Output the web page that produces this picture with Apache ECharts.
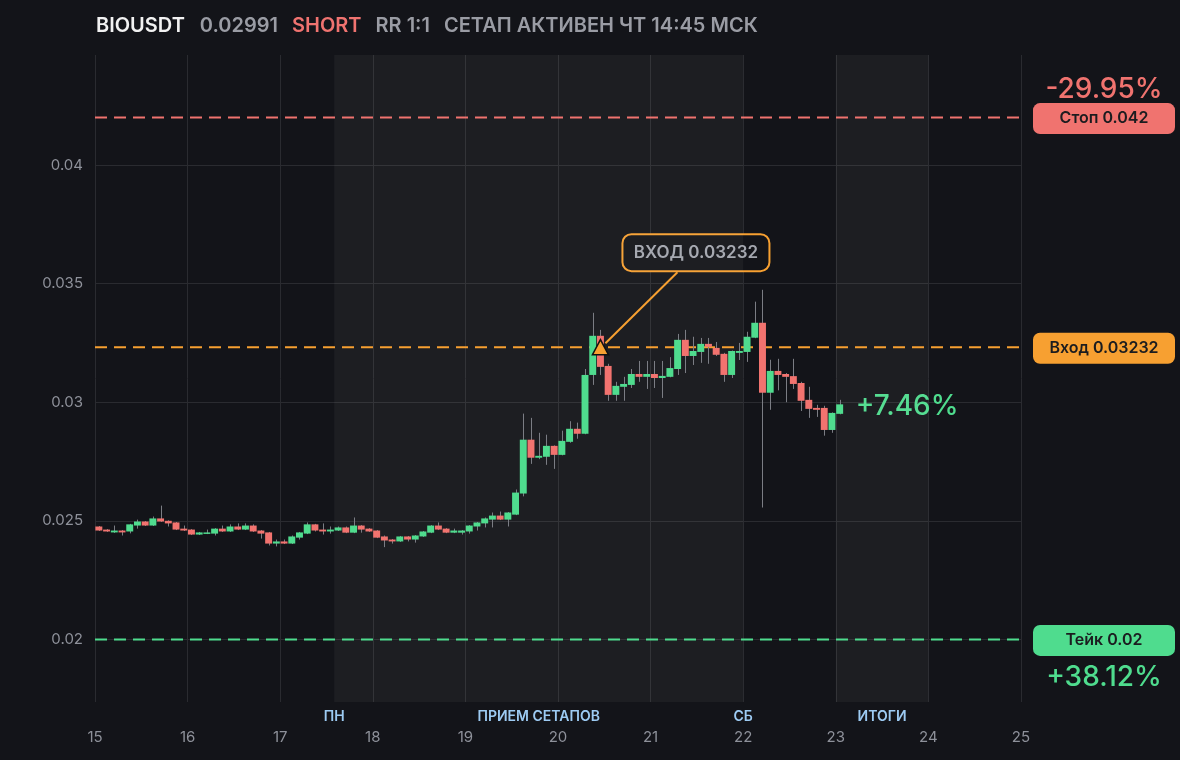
<!DOCTYPE html>
<html><head><meta charset="utf-8">
<script src="https://cdn.jsdelivr.net/npm/echarts@6/dist/echarts.min.js"></script>
<style>html,body{margin:0;padding:0;background:#131419;}#c{width:1180px;height:760px;}</style>
</head><body><div id="c"></div>
<script>
// ---- data ----
const ticker = 'BIOUSDT';
const lastPrice = 0.02991;
const side = 'SHORT';
const rrText = 'RR 1:1';
const statusText = 'СЕТАП АКТИВЕН ЧТ 14:45 МСК';
const dayTicks = [15, 16, 17, 18, 19, 20, 21, 22, 23, 24, 25];
const firstCandleDay = 15;
const candleStepDays = 2 / 24;
const opens = [0.02476,0.02463,0.02451,0.02459,0.02455,0.0248,0.02497,0.0248,0.0251,0.025,
  0.02493,0.02467,0.02463,0.02442,0.02446,0.02446,0.02467,0.02455,0.02476,0.02463,
  0.0248,0.02459,0.02451,0.02404,0.02413,0.02404,0.02429,0.02446,0.02485,0.02463,
  0.02455,0.02459,0.02472,0.0245,0.0248,0.02467,0.02459,0.02434,0.02421,0.02413,
  0.02434,0.02421,0.02434,0.0245,0.0248,0.02467,0.0245,0.0245,0.02455,0.02476,
  0.02489,0.02505,0.02522,0.02505,0.02526,0.02615,0.02842,0.02766,0.0277,0.02816,
  0.02778,0.02833,0.02888,0.02867,0.03115,0.0328,0.03153,0.03031,0.03065,0.03073,
  0.03119,0.03107,0.03119,0.03102,0.03107,0.0314,0.03263,0.03195,0.03212,0.03246,
  0.03229,0.03204,0.03115,0.03208,0.03212,0.03272,0.03335,0.0304,0.03132,0.03119,
  0.0311,0.03081,0.0301,0.02976,0.02976,0.02883,0.02951];
const closes = [0.02459,0.02455,0.02459,0.02451,0.02485,0.02497,0.0248,0.0251,0.02497,0.02489,
  0.02463,0.02459,0.02442,0.02451,0.02451,0.02467,0.02455,0.02476,0.02463,0.0248,
  0.02455,0.02446,0.02404,0.02413,0.02404,0.02434,0.02451,0.02485,0.02459,0.02455,
  0.02463,0.02472,0.0245,0.0248,0.02463,0.02455,0.02429,0.02417,0.02413,0.02434,
  0.02421,0.02438,0.02455,0.0248,0.02463,0.0245,0.02459,0.02459,0.0248,0.02493,
  0.0251,0.02522,0.02505,0.02535,0.02619,0.02842,0.02766,0.02774,0.02816,0.02778,
  0.02837,0.02888,0.02867,0.03115,0.0328,0.03149,0.03031,0.03069,0.03077,0.03119,
  0.03107,0.03119,0.03102,0.03111,0.03144,0.03263,0.03195,0.03216,0.03246,0.03233,
  0.032,0.03115,0.03216,0.03216,0.03276,0.03335,0.0304,0.03132,0.03115,0.03107,
  0.03077,0.03006,0.02972,0.02968,0.02883,0.02955,0.02991];
const highs = [0.02478,0.02465,0.0248,0.02461,0.02487,0.02505,0.02499,0.02518,0.02564,0.02502,
  0.02495,0.0248,0.02465,0.02453,0.02463,0.02469,0.0248,0.02485,0.02489,0.02489,
  0.02485,0.02461,0.02453,0.02421,0.02421,0.02438,0.02453,0.02493,0.02487,0.02489,
  0.02476,0.02476,0.02476,0.02514,0.02482,0.02469,0.02461,0.02438,0.02423,0.02436,
  0.02436,0.0244,0.02457,0.02482,0.02493,0.02469,0.02467,0.02461,0.02482,0.02495,
  0.02514,0.02535,0.02539,0.02537,0.02632,0.02952,0.02934,0.02871,0.02863,0.02818,
  0.0288,0.0292,0.02914,0.0314,0.03377,0.03305,0.03162,0.03086,0.03107,0.0314,
  0.03174,0.03174,0.03174,0.03174,0.0319,0.03288,0.03305,0.03276,0.03271,0.03271,
  0.03254,0.03208,0.03218,0.0325,0.03297,0.03424,0.03474,0.03179,0.03183,0.03123,
  0.03183,0.03086,0.03065,0.02989,0.02985,0.02957,0.0301];
const lows = [0.02457,0.02453,0.02449,0.02438,0.02447,0.02467,0.02478,0.02478,0.02495,0.02476,
  0.02461,0.02457,0.0244,0.0244,0.02444,0.02438,0.02453,0.02453,0.02461,0.02461,
  0.02453,0.02425,0.02396,0.02392,0.02402,0.02402,0.02421,0.02444,0.02455,0.02442,
  0.02446,0.02457,0.02448,0.02448,0.0245,0.02453,0.02427,0.02389,0.02404,0.02411,
  0.02413,0.02408,0.02432,0.02448,0.02461,0.02448,0.02448,0.02442,0.02446,0.02459,
  0.02472,0.02472,0.02503,0.02476,0.02524,0.02603,0.0274,0.0276,0.02736,0.02719,
  0.02776,0.02829,0.02846,0.02865,0.03073,0.03115,0.03006,0.03006,0.03006,0.0306,
  0.03086,0.03056,0.0306,0.03018,0.03105,0.03115,0.03123,0.03157,0.03166,0.03162,
  0.03195,0.03086,0.03102,0.03178,0.0317,0.0327,0.02556,0.02968,0.0305,0.03,
  0.03056,0.02963,0.02934,0.02938,0.02859,0.02871,0.02949];
const stopPrice = 0.042, entryPrice = 0.03232, takePrice = 0.02;
const stopPct = '-29.95%', takePct = '+38.12%', currentPct = '+7.46%';
const entryCandleIndex = 65;
const shadedZones = [[17.5833, 22], [23, 24]];
const zoneLabels = [
  { day: 17.5833, text: 'ПН' },
  { day: 19.7917, text: 'ПРИЕМ СЕТАПОВ' },
  { day: 22, text: 'СБ' },
  { day: 23.5, text: 'ИТОГИ' }
];

// ---- colours ----
const UP = '#4fdc8e', DOWN = '#f2736f', ORANGE = '#f7a031', GRAYTXT = '#8e919a', STOPC = '#f0736f';
const FONT = 'Inter, "Noto Sans", sans-serif';

const candleData = opens.map((o, i) => [firstCandleDay + candleStepDays * (i + 0.5), o, closes[i], lows[i], highs[i]]);
const entryDay = candleData[entryCandleIndex][0];
const xMin = dayTicks[0], xMax = dayTicks[dayTicks.length - 1];

function levelLine(value, color) {
  return {
    type: 'line', z: 2, silent: true, symbol: 'none',
    data: [[xMin, value], [xMax, value]],
    lineStyle: { color: color, type: [12, 7], width: 2 }
  };
}

const chart = echarts.init(document.getElementById('c'), null, { renderer: 'canvas' });
chart.setOption({
  backgroundColor: '#131419',
  animation: false,
  textStyle: { fontFamily: FONT },
  title: {
    left: 96, top: 16, padding: 0,
    text: `{a|${ticker}}{b|${lastPrice}}{r|${side}}{b|${rrText}}{c|${statusText}}`,
    textStyle: {
      rich: {
        a: { color: '#f2f2f2', fontSize: 20, fontWeight: 600, fontFamily: FONT, padding: [0, 15, 0, 0] },
        b: { color: '#9a9ca4', fontSize: 20, fontWeight: 600, fontFamily: FONT, padding: [0, 14, 0, 0] },
        r: { color: '#f07370', fontSize: 20, fontWeight: 600, fontFamily: FONT, padding: [0, 14, 0, 0] },
        c: { color: '#9a9ca4', fontSize: 20, fontWeight: 600, fontFamily: FONT }
      }
    }
  },
  grid: { left: 95, right: 159, top: 55, bottom: 58, containLabel: false },
  xAxis: {
    type: 'value', min: xMin, max: xMax, interval: 1,
    axisLine: { show: false }, axisTick: { show: false },
    axisLabel: { color: GRAYTXT, fontSize: 15, margin: 28, fontFamily: FONT },
    splitLine: { show: true, lineStyle: { color: '#2a2b30', width: 1 } }
  },
  yAxis: {
    type: 'value', min: 0.01736, max: 0.04464, splitNumber: 5, scale: true,
    axisLine: { show: false }, axisTick: { show: false },
    axisLabel: { color: GRAYTXT, fontSize: 15, margin: 12, fontFamily: FONT, showMinLabel: false, showMaxLabel: false },
    splitLine: { show: true, showMinLine: false, showMaxLine: false, lineStyle: { color: '#2a2b30', width: 1 } }
  },
  series: [
    {
      type: 'custom', z: 3, data: candleData,
      encode: { x: 0, y: [1, 2, 3, 4] },
      markArea: {
        silent: true,
        itemStyle: { color: 'rgba(255,255,255,0.045)' },
        data: shadedZones.map(z => [{ xAxis: z[0] }, { xAxis: z[1] }])
      },
      renderItem(params, api) {
        const x = api.value(0), o = api.value(1), c = api.value(2), l = api.value(3), h = api.value(4);
        const pO = api.coord([x, o]), pC = api.coord([x, c]), pL = api.coord([x, l]), pH = api.coord([x, h]);
        const w = api.size([candleStepDays, 0])[0] * 0.9;
        const top = Math.min(pO[1], pC[1]);
        const bh = Math.max(Math.abs(pO[1] - pC[1]), 1.5);
        const cx = Math.round(pO[0]) + 0.5;
        return {
          type: 'group', children: [
            { type: 'line', shape: { x1: cx, y1: pH[1], x2: cx, y2: pL[1] }, style: { stroke: '#7b7d84', lineWidth: 1 } },
            { type: 'rect', shape: { x: pO[0] - w / 2, y: top, width: w, height: bh }, style: { fill: c >= o ? UP : DOWN } }
          ]
        };
      }
    },
    levelLine(stopPrice, STOPC),
    levelLine(entryPrice, ORANGE),
    levelLine(takePrice, UP),
    {
      type: 'scatter', z: 6, silent: true,
      data: [[entryDay, entryPrice]],
      symbol: 'triangle', symbolSize: [16, 15],
      itemStyle: { color: ORANGE, borderColor: '#111', borderWidth: 1.5, opacity: 1 }
    }
  ]
});

// ---- pixel-anchored annotations ----
const py = v => chart.convertToPixel({ yAxisIndex: 0 }, v);
const px = v => chart.convertToPixel({ xAxisIndex: 0 }, v);
const boxX = 1033, boxW = 142, boxH = 31;
function tag(value, text, color) {
  const y = py(value) + 1;
  return {
    type: 'group', children: [
      { type: 'rect', shape: { x: boxX, y: y - boxH / 2, width: boxW, height: boxH, r: 7 }, style: { fill: color } },
      { type: 'text', x: boxX + boxW / 2, y: y, style: { text: text, fill: '#1b1c1f', font: `600 16px ${FONT}`, align: 'center', verticalAlign: 'middle' } }
    ]
  };
}
const entryPx = [px(entryDay), py(entryPrice)];
const lastPx = [px(candleData[candleData.length - 1][0]), py(lastPrice)];
const plotBottom = py(0.01736);
const graphics = [
  tag(stopPrice, 'Стоп ' + stopPrice, STOPC),
  tag(entryPrice, 'Вход ' + entryPrice, ORANGE),
  tag(takePrice, 'Тейк ' + takePrice, UP),
  { type: 'text', x: boxX + boxW / 2, y: py(stopPrice) - 28, style: { text: stopPct, fill: STOPC, font: `500 28px ${FONT}`, align: 'center', verticalAlign: 'middle' } },
  { type: 'text', x: boxX + boxW / 2, y: py(takePrice) + 38, style: { text: takePct, fill: UP, font: `500 28px ${FONT}`, align: 'center', verticalAlign: 'middle' } },
  { type: 'text', x: lastPx[0] + 16, y: lastPx[1] + 2, style: { text: currentPct, fill: UP, font: `500 28px ${FONT}`, align: 'left', verticalAlign: 'middle' } },
  { type: 'line', z: 5, shape: { x1: entryPx[0] + 5, y1: entryPx[1] - 4, x2: entryPx[0] + 77, y2: entryPx[1] - 75 }, style: { stroke: ORANGE, lineWidth: 2 } },
  {
    type: 'group', z: 7, children: [
      { type: 'rect', shape: { x: entryPx[0] + 22, y: entryPx[1] - 113, width: 147, height: 37, r: 9 }, style: { fill: '#131419', stroke: ORANGE, lineWidth: 2 } },
      { type: 'text', x: entryPx[0] + 22 + 73.5, y: entryPx[1] - 94.5, style: { text: 'ВХОД ' + entryPrice, fill: '#a3a6ae', font: `600 17px ${FONT}`, align: 'center', verticalAlign: 'middle' } }
    ]
  }
];
zoneLabels.forEach(z => graphics.push({
  type: 'text', x: px(z.day), y: plotBottom + 15,
  style: { text: z.text, fill: '#9dcbf3', font: `600 14px ${FONT}`, align: 'center', verticalAlign: 'middle' }
}));
chart.setOption({ graphic: graphics });
</script>
</body></html>
